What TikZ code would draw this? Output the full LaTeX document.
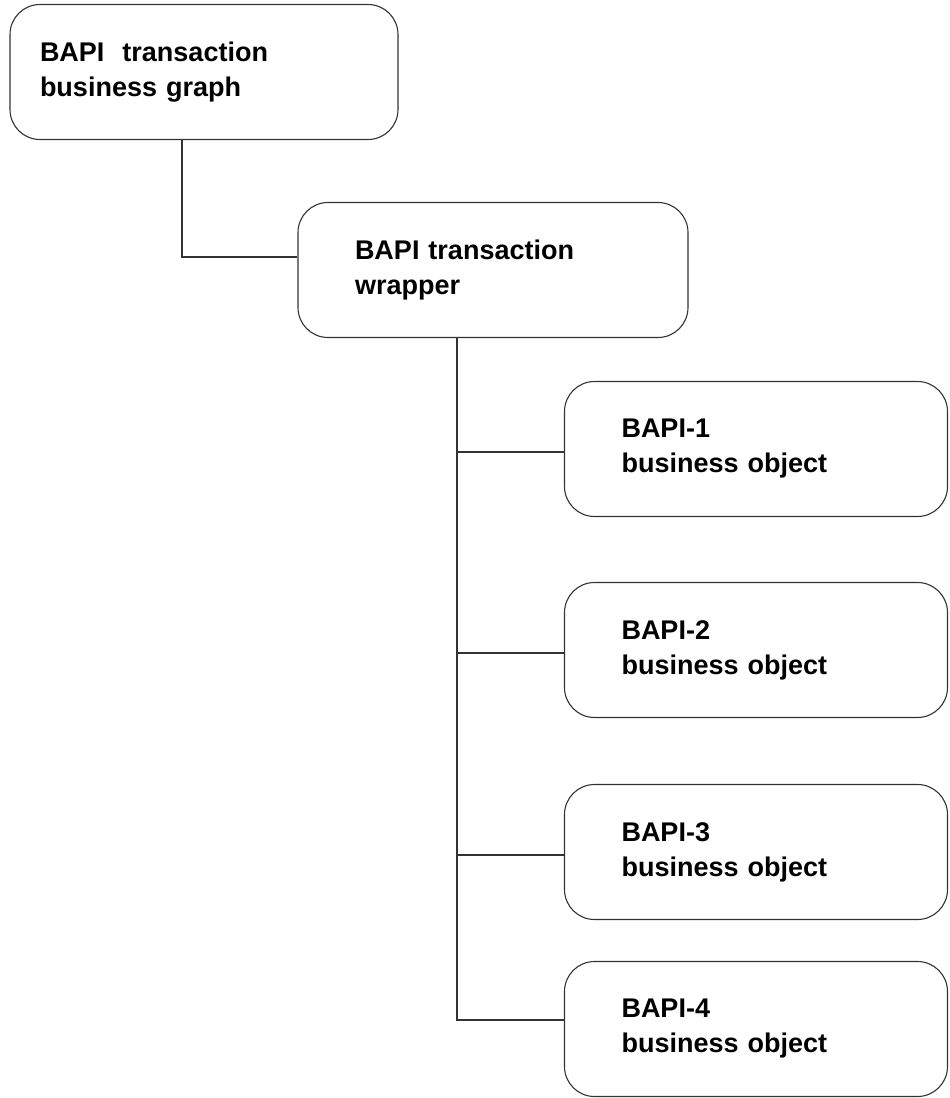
\documentclass[tikz,border=0pt]{standalone}
\usepackage{fontspec}
\setmainfont{Liberation Sans}
\usetikzlibrary{positioning}

\begin{document}
\begin{tikzpicture}[x=1pt,y=-1pt,-,thick,
  main node/.style={rectangle,rounded corners=30pt,draw=black!80,line width=1.1pt,
    align=left,inner sep=0pt,minimum height=135pt,
    font=\fontsize{27}{35}\selectfont\bfseries}]

    \useasboundingbox (0,0) rectangle (950,1098);

	\node[main node,minimum width=388pt,text width=328pt] (1) at (204,72) {BAPI\ \ transaction\\business graph};
    \node[main node,minimum width=390pt,text width=276pt] (2) at (493,270) {BAPI transaction\\wrapper};
    \node[main node,minimum width=383pt,text width=269pt] (3) at (756,449) {BAPI-1\\business object};
    \node[main node,minimum width=383pt,text width=269pt] (4) at (756,650) {BAPI-2\\business object};
    \node[main node,minimum width=383pt,text width=269pt] (5) at (756,852) {BAPI-3\\business object};
    \node[main node,minimum width=383pt,text width=269pt] (6) at (756,1029) {BAPI-4\\business object};

    \draw[black!80,line width=1.1pt] ([xshift=-22pt]1.south) |- ([yshift=13pt]2.west);
    \draw[black!80,line width=1.1pt] ([xshift=-36pt]2.south) coordinate (trunk) |- ([yshift=9pt]6.west);
    \draw[black!80,line width=1.1pt] ([yshift=-3pt]3.west -| trunk) -- ([yshift=-3pt]3.west);
    \draw[black!80,line width=1.1pt] ([yshift=-3pt]4.west -| trunk) -- ([yshift=-3pt]4.west);
    \draw[black!80,line width=1.1pt] ([yshift=-3pt]5.west -| trunk) -- ([yshift=-3pt]5.west);

\end{tikzpicture}
\end{document}
